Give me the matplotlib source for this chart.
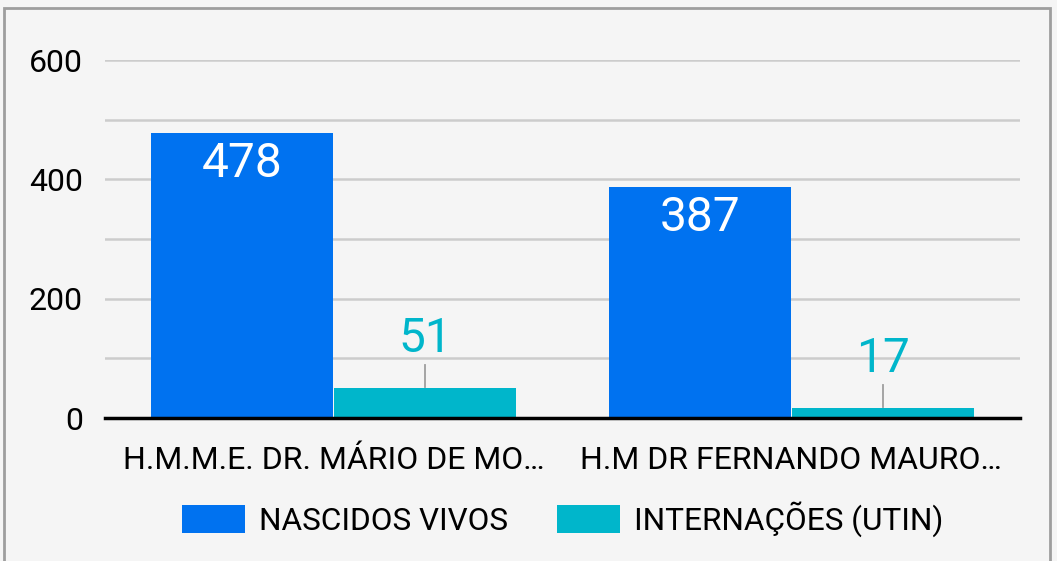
import matplotlib.pyplot as plt
import numpy as np
from matplotlib.patches import Rectangle

plt.rcParams['font.family'] = ['Roboto', 'DejaVu Sans']

hospitais = ['H.M.M.E. DR. MÁRIO DE MO…', 'H.M DR FERNANDO MAURO…']
series = ['NASCIDOS VIVOS', 'INTERNAÇÕES (UTIN)']
nascidos = [478, 387]
internacoes = [51, 17]
yticks = [0, 200, 400, 600]

azul = '#0072f0'
verde = '#00b6cb'
bg = '#f5f5f5'

fig = plt.figure(figsize=(10.57, 5.61), dpi=100, facecolor=bg)
ax = fig.add_axes([105 / 1057, 1 - 418 / 561, 915 / 1057, 358 / 561])
ax.set_facecolor(bg)

# moldura cinza
fig.patches.append(Rectangle((4 / 1057, -0.05), 1046 / 1057, 1 - 8 / 561 + 0.05,
                             transform=fig.transFigure, fill=False,
                             edgecolor='#9e9e9e', linewidth=2))

x = np.arange(len(hospitais))
w = 0.397
b1 = ax.bar(x - 0.2, nascidos, w, color=azul, label=series[0], zorder=3)
b2 = ax.bar(x + 0.2, internacoes, w, color=verde, label=series[1], zorder=3)

for rect, v in zip(b1, nascidos):
    ax.text(rect.get_x() + rect.get_width() / 2, v - 14, str(v), ha='center', va='top',
            color='white', fontsize=34.5, zorder=4)

for rect, v in zip(b2, internacoes):
    cx = rect.get_x() + rect.get_width() / 2
    ax.plot([cx, cx], [v + 1, v + 38], color='#9e9e9e', linewidth=1.3, zorder=4)
    ax.text(cx, v + 43, str(v), ha='center', va='bottom', color=verde, fontsize=34.5, zorder=4)

ax.set_xlim(-0.5, 1.5)
ax.set_ylim(0, 600)
ax.set_yticks(yticks)
ax.set_yticks([100, 300, 500], minor=True)
ax.grid(axis='y', which='both', color='#cccccc', linewidth=1.8, zorder=0)
ax.tick_params(axis='y', which='both', length=0, pad=16, labelsize=23)
ax.set_xticks(x)
ax.set_xticklabels(hospitais)
ax.tick_params(axis='x', length=0, pad=20, labelsize=23)
for s in ['top', 'right', 'left']:
    ax.spines[s].set_visible(False)
ax.spines['bottom'].set_color('black')
ax.spines['bottom'].set_linewidth(2.5)
ax.spines['bottom'].set_zorder(5)

leg = fig.legend(loc='center', bbox_to_anchor=(563 / 1057, 1 - 519 / 561), ncol=2,
                 frameon=False, fontsize=22.7, handlelength=2.0, handleheight=1.0,
                 handletextpad=0.45, columnspacing=1.55)

fig.savefig('out.png', dpi=100, facecolor=bg)
